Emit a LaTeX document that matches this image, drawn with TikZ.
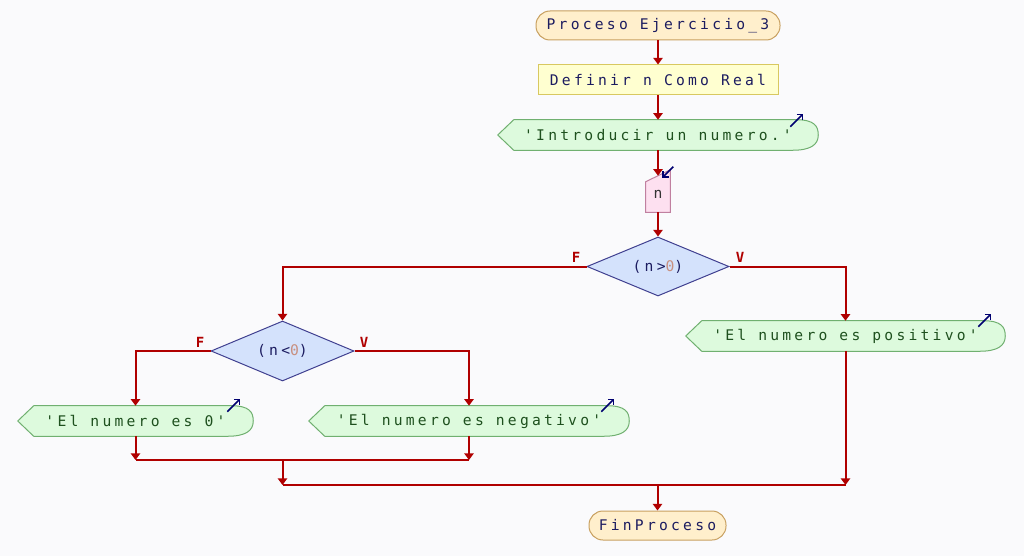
\documentclass[tikz,border=0pt]{standalone}
\usepackage{fontspec}
\usetikzlibrary{shapes.geometric,arrows.meta,calc,backgrounds}
\newfontfamily\fcmono[LetterSpace=22]{DejaVu Sans Mono}
\newfontfamily\fclbl{DejaVu Sans Mono}
\definecolor{bgc}{HTML}{FAFAFC}
\definecolor{arrc}{HTML}{B00000}
\definecolor{termf}{HTML}{FFEFCC}
\definecolor{termd}{HTML}{C8A060}
\definecolor{deff}{HTML}{FFFFD0}
\definecolor{defd}{HTML}{D8C860}
\definecolor{outf}{HTML}{DDFADD}
\definecolor{outd}{HTML}{70B070}
\definecolor{outt}{HTML}{1E501E}
\definecolor{inpf}{HTML}{FDE0F0}
\definecolor{inpd}{HTML}{C080A0}
\definecolor{decf}{HTML}{D4E2FC}
\definecolor{decd}{HTML}{404090}
\definecolor{navy}{HTML}{1C1C60}
\definecolor{zeroc}{HTML}{C89080}
\definecolor{iconc}{HTML}{000070}
\newcommand{\fcouts}[1]{%
  \path[outsh] (#1.west) -- ($(#1.north west)+(16,0)$) -- ($(#1.north east)+(-22,0)$)
    .. controls ($(#1.north east)+(-4,0)$) and ($(#1.east)+(0,-9)$) .. (#1.east)
    .. controls ($(#1.east)+(0,10)$) and ($(#1.south east)+(-8,0)$) .. ($(#1.south east)+(-26,0)$)
    -- ($(#1.south west)+(16,0)$) -- cycle;}
\begin{document}
\begin{tikzpicture}[x=0.75pt,y=-0.75pt,
  txt/.style={font=\fcmono\fontsize{11pt}{13pt}\selectfont, inner sep=0pt},
  term/.style={txt, draw=termd, fill=termf, line width=0.75pt, rounded corners=10.5pt, text=navy},
  defbox/.style={txt, draw=defd, fill=deff, line width=0.75pt, text=navy},
  outn/.style={txt, text=outt, minimum height=22.5pt},
  outsh/.style={draw=outd, fill=outf, line width=0.75pt},
  inpsh/.style={draw=inpd, fill=inpf, line width=0.75pt},
  dec/.style={txt, diamond, aspect=2.4, draw=decd, fill=decf, line width=0.75pt, text=navy},
  arr/.style={draw=arrc, line width=1.5pt, -{Triangle[width=7pt,length=5pt]}},
  ln/.style={draw=arrc, line width=1.5pt},
  lbl/.style={font=\fclbl\bfseries\fontsize{10.5pt}{12pt}\selectfont, text=arrc, inner sep=0pt},
  icon/.style={draw=iconc, line width=1.1pt, -{Straight Barb[length=3pt,width=6pt]}}
]
\useasboundingbox (0,0) rectangle (1024,556);
% nodes
\node[term, minimum width=183pt, minimum height=21.75pt] (start) at (658,25.5) {Proceso Ejercicio\_3};
\node[defbox, minimum width=180pt, minimum height=22.5pt] (def) at (658,80) {Definir n Como Real};
\node[outn, minimum width=240pt] (out1) at (658,135) {'Introducir un numero.'};
\node[txt, text=black!80, minimum width=18pt, minimum height=27pt] (inp) at (658,194) {\raisebox{-1.5pt}{n}};
\node[dec, minimum width=106.5pt, minimum height=44.25pt] (d1) at (658,266.5) {(n>\textcolor{zeroc}{0})};
\node[outn, minimum width=239.25pt] (out2) at (845.5,336) {'El numero es positivo'};
\node[dec, minimum width=107.25pt, minimum height=45pt] (d2) at (282.5,351) {(n<\textcolor{zeroc}{0})};
\node[outn, minimum width=176.25pt] (out3) at (135.5,421) {'El numero es 0'};
\node[outn, minimum width=240pt] (out4) at (469,421) {'El numero es negativo'};
\node[term, minimum width=102.75pt, minimum height=21.75pt] (fin) at (657.5,525.5) {FinProceso};
% labels
\node[lbl] (f1) at (576,257) {F};
\node[lbl] (v1) at (740,257) {V};
\node[lbl] (f2) at (200,342) {F};
\node[lbl] (v2) at (364,342) {V};
% shapes behind text
\begin{scope}[on background layer]
\fill[bgc] (0,0) rectangle (1024,556);
\fcouts{out1}
\fcouts{out2}
\fcouts{out3}
\fcouts{out4}
\path[inpsh] (inp.south west) -- (inp.south east) -- ($(inp.north east)+(0,-6)$) -- ($(inp.north west)+(0,6)$) -- cycle;
\end{scope}
% junction coordinates
\coordinate (j3) at (out3.south |- 0,460);
\coordinate (j4) at (out4.south |- 0,460);
\coordinate (jm) at (d2.south |- 0,460);
\coordinate (k1) at (d2.south |- 0,485);
\coordinate (k2) at (out2.south |- 0,485);
\coordinate (k3) at (fin.north |- 0,485);
% connectors
\path[arr] (start) -- (def);
\path[arr] (def) -- (out1);
\path[arr] (out1) -- (inp);
\path[arr] (inp) -- (d1);
\path[arr] (d1.west) -| (d2.north);
\path[arr] (d1.east) -| (out2.north);
\path[arr] (d2.west) -| (out3.north);
\path[arr] (d2.east) -| (out4.north);
\path[arr] (out3.south) -- (j3);
\path[arr] (out4.south) -- (j4);
\path[ln] (j3) -- (j4);
\path[arr] (jm) -- (k1);
\path[ln] (k1) -- (k2);
\path[arr] (out2.south) -- (k2);
\path[arr] (k3) -- (fin.north);
% icons
\path[icon] ($(out1.north east)+(-28,7)$) -- ++(13,-13);
\path[icon] ($(out2.north east)+(-27,6)$) -- ++(13,-13);
\path[icon] ($(out3.north east)+(-26,6)$) -- ++(13,-13);
\path[icon] ($(out4.north east)+(-28,6)$) -- ++(13,-13);
\path[icon] ($(inp.north east)+(3,-9)$) -- ++(-11,11);
\end{tikzpicture}
\end{document}
